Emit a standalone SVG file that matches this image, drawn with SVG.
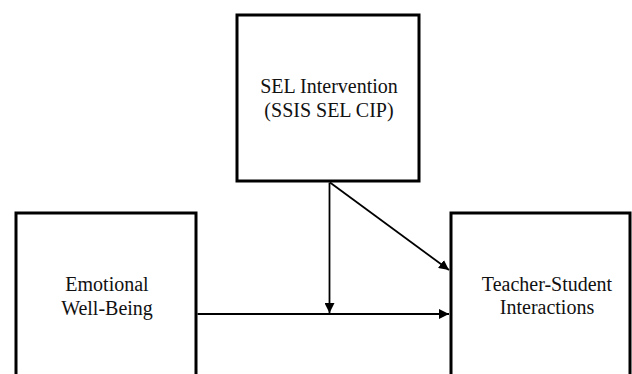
<svg xmlns="http://www.w3.org/2000/svg" width="632" height="374" viewBox="0 0 632 374">
<style>
.box{fill:#fff;stroke:#000;stroke-width:3}
.lbl{font-family:"Liberation Serif","Times New Roman",serif;font-size:20px;fill:#111;text-anchor:middle}
.conn{stroke:#000;stroke-width:1.8;fill:none}
</style>
<defs>
<marker id="ah" viewBox="0 0 10 10" refX="10" refY="5" markerWidth="10" markerHeight="10" markerUnits="userSpaceOnUse" orient="auto">
<path d="M0,0 L10,5 L0,10 Z" fill="#000"/>
</marker>
</defs>
<rect width="632" height="374" fill="#fff"/>
<g id="sel">
<rect class="box" x="237" y="15" width="182" height="166"/>
<text class="lbl" x="329" y="93">SEL Intervention</text>
<text class="lbl" x="329" y="117">(SSIS SEL CIP)</text>
</g>
<g id="ewb">
<rect class="box" x="16" y="213" width="180" height="170"/>
<text class="lbl" x="107" y="291">Emotional</text>
<text class="lbl" x="107" y="315">Well-Being</text>
</g>
<g id="tsi">
<rect class="box" x="451" y="213" width="179" height="170"/>
<text class="lbl" x="547" y="291">Teacher-Student</text>
<text class="lbl" x="547" y="314">Interactions</text>
</g>
<g id="connectors">
<line class="conn" x1="197.5" y1="314" x2="449" y2="314" marker-end="url(#ah)"/>
<line class="conn" x1="329.5" y1="182.5" x2="329.5" y2="313" marker-end="url(#ah)"/>
<line class="conn" x1="330" y1="182.5" x2="449" y2="270" marker-end="url(#ah)"/>
</g>
</svg>
